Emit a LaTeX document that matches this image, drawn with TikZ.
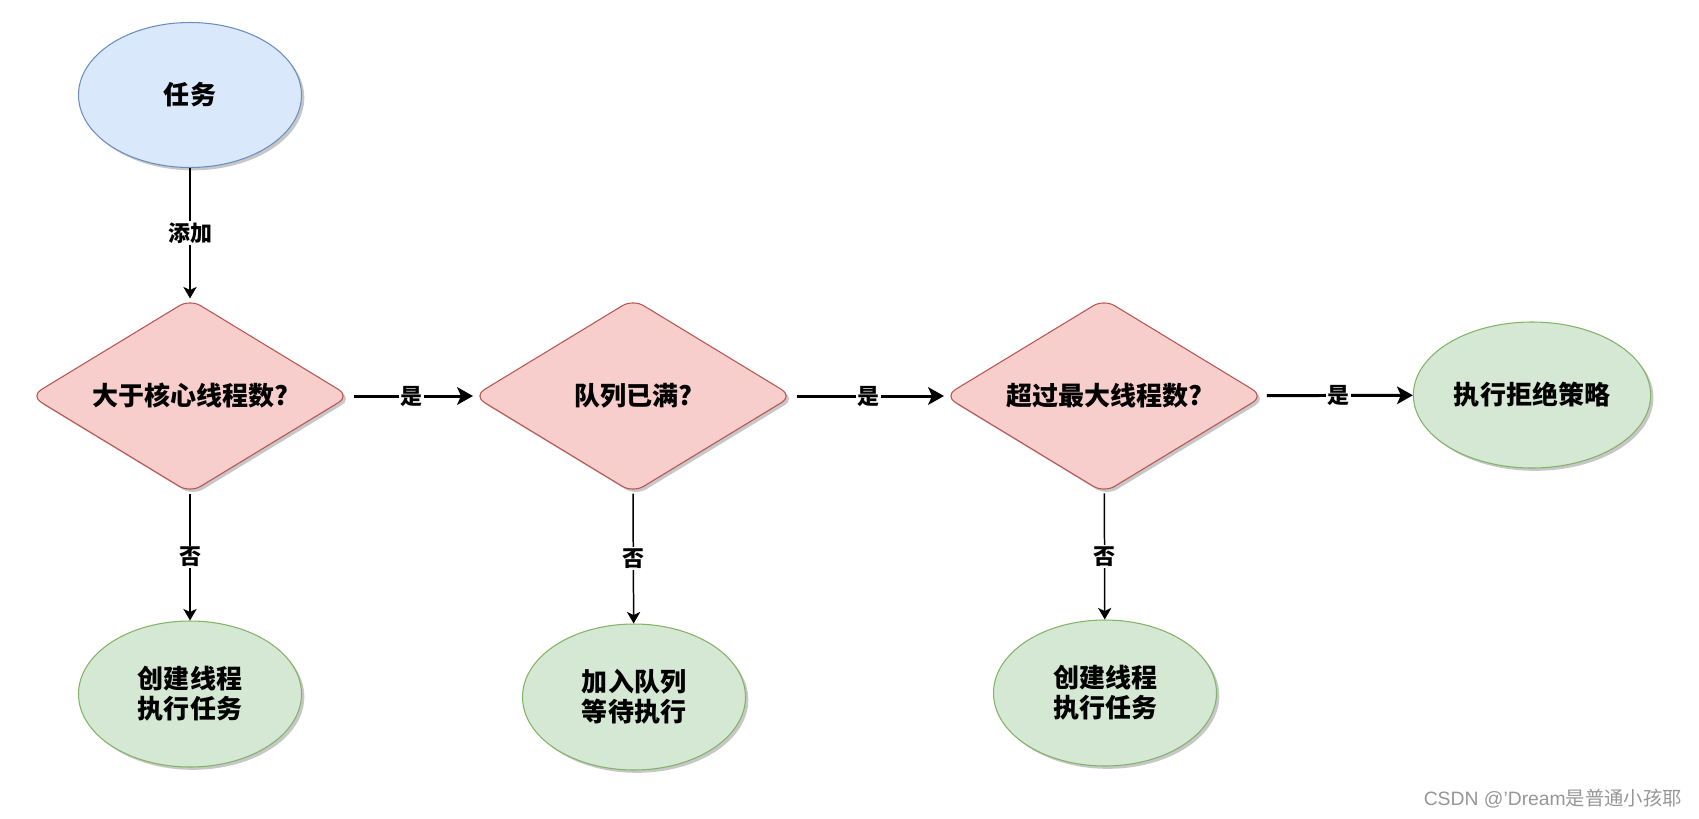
\documentclass[tikz,border=0pt]{standalone}
\usepackage{fontspec}
\setmainfont{Liberation Sans}
\newfontfamily\cjk{Noto Sans CJK SC}
\usepackage{tikz}
\usetikzlibrary{arrows.meta,positioning,shapes.geometric,shadows}
\definecolor{TaskBlue}{HTML}{DAE8FC}
\definecolor{TaskBlueLine}{HTML}{6C8EBF}
\definecolor{CheckRed}{HTML}{F8CECC}
\definecolor{CheckRedLine}{HTML}{B85450}
\definecolor{ResultGreen}{HTML}{D5E8D4}
\definecolor{ResultGreenLine}{HTML}{82B366}
\definecolor{MarkGray}{RGB}{150,150,150}

\begin{document}
\begin{tikzpicture}[
  shade/.style={
    drop shadow={shadow xshift=1.6pt, shadow yshift=-1.6pt, fill=black, opacity=0.22}
  },
  start/.style={
    draw=TaskBlueLine,
    ellipse,
    minimum width=4.46cm,
    minimum height=2.9cm,
    align=center,
    fill=TaskBlue,
    line width=0.6pt,
    shade
  },
  check/.style={
    draw=CheckRedLine,
    diamond,
    aspect=1.63,
    rounded corners=7pt,
    minimum width=6.38cm,
    minimum height=3.88cm,
    inner sep=0pt,
    align=center,
    fill=CheckRed,
    line width=0.6pt,
    shade
  },
  result/.style={
    draw=ResultGreenLine,
    ellipse,
    minimum width=4.46cm,
    minimum height=2.92cm,
    align=center,
    fill=ResultGreen,
    line width=0.6pt,
    shade
  },
  arr/.style={-{Stealth[length=6.6pt,width=7.6pt,inset=1.8pt]}, line width=0.85pt},
  bigarr/.style={-{Stealth[length=9pt,width=10pt,inset=2.2pt]}, line width=1.7pt, shorten <=2pt},
  lab/.style={fill=white,inner sep=0.8pt,font=\cjk\bfseries\fontsize{12.5}{14}\selectfont},
  font=\cjk\bfseries\fontsize{14.8}{17}\selectfont
]
\useasboundingbox (0,0) rectangle (33.98,-16.36);

\node[start] (task) at (3.8,-1.9) {任务};
\node[check] (core) at (3.8,-7.92) {大于核心线程数?};
\node[check] (queue) at (12.66,-7.92) {队列已满?};
\node[check] (max) at (22.08,-7.92) {超过最大线程数?};
\node[result] (reject) at (30.64,-7.9) {执行拒绝策略};

\node[result] (newthread) at (3.8,-13.88) {创建线程\\执行任务};
\node[result] (wait) at (12.68,-13.94) {加入队列\\等待执行};
\node[result] (extrathread) at (22.1,-13.86) {创建线程\\执行任务};

\draw[arr] (task) --
  node[lab]{添加}
  (core);
\draw[bigarr] (core) --
  node[lab]{是}
  (queue);
\draw[bigarr] (queue) --
  node[lab]{是}
  (max);
\draw[bigarr] (max) --
  node[lab]{是}
  (reject);

\draw[arr] (core) --
  node[lab]{否}
  (newthread);
\draw[arr] (queue.south) --
  node[lab]{否}
  (wait);
\draw[arr] (max) --
  node[lab]{否}
  (extrathread);

\node[anchor=east,text=MarkGray,font=\fontsize{11}{13}\selectfont] (mark) at (33.76,-15.98)
  {CSDN @'Dream{\cjk 是普通小孩耶}};
\end{tikzpicture}
\end{document}
